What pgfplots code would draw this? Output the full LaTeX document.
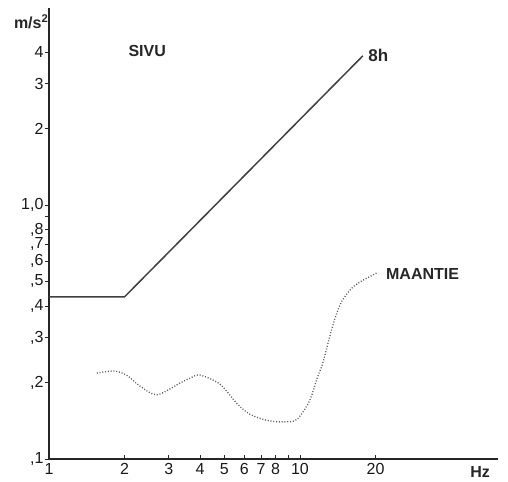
\documentclass[border=0pt]{standalone}
\usepackage{pgfplots}
\pgfplotsset{compat=1.18}
\usepackage{fontspec}
\setmainfont{Liberation Sans}
\begin{document}
\begin{tikzpicture}
\begin{axis}[
  scale only axis,
  width=449bp, height=451bp,
  xmode=log, ymode=log,
  xmin=1, xmax=61.5, ymin=0.1, ymax=5.97,
  axis x line*=bottom, axis y line*=left,
  axis line style={line width=1.6bp, black!85, -},
  clip=false,
  xtick={1,2,3,4,5,6,7,8,9,10,20},
  xticklabels={1,2,3,4,5,6,7,8,,10,20},
  ytick={0.1,0.2,0.3,0.4,0.5,0.6,0.7,0.8,0.9,1,2,3,4},
  yticklabels={{,1},{,2},{,3},{,4},{,5},{,6},{,7},{,8},,{1,0},2,3,4},
  minor xtick={}, minor ytick={},
  major tick length=4bp,
  tick style={line width=1bp, black!85},
  y tick style={xshift=-4bp},
  ticklabel style={font=\fontsize{16bp}{18bp}\selectfont, black!90},
  xticklabel style={yshift=-1bp},
  yticklabel style={xshift=-2bp},
  /pgf/number format/assume math mode=true,
]
\addplot[line width=1.5bp, black!75] coordinates {(1,0.435) (2,0.435) (17.8,3.87)};
\addplot[smooth, line width=1.3bp, black!65, dash pattern=on 1bp off 1.8bp] coordinates {
(1.55,0.218) (1.83,0.222) (2.05,0.213) (2.3,0.194) (2.69,0.179) (3.32,0.199)
(3.64,0.208) (4.0,0.214) (4.8,0.197) (5.62,0.165) (6.32,0.150) (7.37,0.142)
(8.54,0.140) (9.7,0.143) (10.9,0.169) (11.7,0.208) (12.3,0.237) (13.1,0.300)
(13.8,0.359) (14.7,0.419) (16.1,0.471) (17.6,0.502) (20.2,0.540)};
\node[anchor=base west, inner sep=0pt, font=\bfseries\fontsize{16bp}{18bp}\selectfont, black!85] at (axis cs:2.07,3.83) {SIVU};
\node[anchor=base west, inner sep=0pt, font=\bfseries\fontsize{17bp}{19bp}\selectfont, black!85] at (axis cs:18.7,3.66) {8h};
\node[anchor=base west, inner sep=0pt, font=\bfseries\fontsize{16bp}{18bp}\selectfont, black!85] at (axis cs:22.0,0.511) {MAANTIE};
\node[anchor=base west, inner sep=0pt, font=\bfseries\fontsize{16bp}{18bp}\selectfont, black!85] at (axis cs:47.6,0.1) [yshift=-18bp] {Hz};
\node[anchor=base east, inner sep=0pt, font=\bfseries\fontsize{16bp}{18bp}\selectfont, black!85] at (rel axis cs:0,1) [xshift=-0.5bp, yshift=-21bp] {m/s\textsuperscript{2}};
\path (rel axis cs:0,0) ++(-49bp,-23bp) coordinate (bl);
\path (rel axis cs:1,1) ++(10bp,8bp) coordinate (tr);
\useasboundingbox (bl) rectangle (tr);
\end{axis}
\end{tikzpicture}
\end{document}
